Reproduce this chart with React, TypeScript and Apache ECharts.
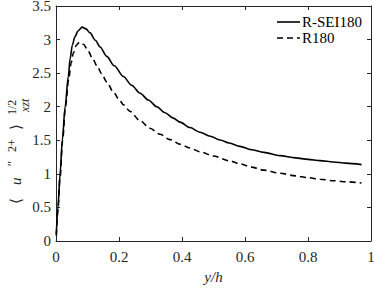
import React, { useEffect, useRef } from "react";
import * as echarts from "echarts";

// Data
const solidX = [0.001, 0.006, 0.013, 0.02, 0.029, 0.039, 0.045, 0.052, 0.06, 0.07, 0.083, 0.095, 0.108, 0.125, 0.14, 0.161, 0.185, 0.214, 0.24, 0.267, 0.293, 0.32, 0.346, 0.372, 0.394, 0.425, 0.457, 0.49, 0.521, 0.55, 0.584, 0.62, 0.66, 0.711, 0.76, 0.8, 0.838, 0.88, 0.92, 0.97];
const solidY = [0.1, 0.5, 1.0, 1.5, 2.0, 2.45, 2.72, 2.92, 3.04, 3.13, 3.185, 3.16, 3.1, 2.99, 2.89, 2.75, 2.61, 2.45, 2.32, 2.2, 2.1, 2.0, 1.91, 1.83, 1.77, 1.69, 1.62, 1.56, 1.505, 1.46, 1.41, 1.36, 1.32, 1.272, 1.238, 1.215, 1.197, 1.177, 1.16, 1.137];
const dashedX = [0.001, 0.006, 0.013, 0.021, 0.03, 0.04, 0.048, 0.055, 0.065, 0.075, 0.087, 0.1, 0.115, 0.13, 0.145, 0.161, 0.182, 0.2, 0.214, 0.235, 0.267, 0.298, 0.33, 0.362, 0.394, 0.425, 0.457, 0.5, 0.55, 0.584, 0.62, 0.66, 0.711, 0.76, 0.8, 0.838, 0.88, 0.92, 0.97];
const dashedY = [0.08, 0.45, 0.95, 1.5, 2.0, 2.4, 2.65, 2.8, 2.92, 2.96, 2.93, 2.85, 2.73, 2.61, 2.49, 2.37, 2.22, 2.11, 2.03, 1.93, 1.79, 1.68, 1.59, 1.51, 1.44, 1.385, 1.33, 1.265, 1.195, 1.15, 1.1, 1.055, 1.01, 0.97, 0.943, 0.92, 0.898, 0.882, 0.865];
const seriesNames = ["R-SEI180", "R180"];
const xTicks = { min: 0, max: 1, interval: 0.2 };
const yTicks = { min: 0, max: 3.5, interval: 0.5 };
const xLabel = "y/h";

const FONT = "Liberation Serif";
const AX = "#262626";

export default function App() {
  const ref = useRef<HTMLDivElement>(null);
  useEffect(() => {
    if (!ref.current) return;
    const chart = echarts.init(ref.current, undefined, { renderer: "svg" });
    const zip = (xs: number[], ys: number[]) => xs.map((x, i) => [x, ys[i]]);
    const axisLine = { show: true, onZero: false, lineStyle: { color: AX, width: 1 } };
    const axisTick = { show: true, inside: true, length: 4, lineStyle: { color: AX, width: 1 } };
    const labelStyle = { fontFamily: FONT, fontSize: 15, color: AX };
    const main = { fontFamily: FONT, fontSize: 15, fill: AX, verticalAlign: "middle" };
    const small = { fontFamily: FONT, fontSize: 12, fill: AX, verticalAlign: "middle" };
    const legendText = { fontFamily: FONT, fontSize: 15, fill: "#000", verticalAlign: "middle" };
    chart.setOption({
      animation: false,
      grid: { left: 56, right: 3, top: 6, bottom: 47, containLabel: false, outerBoundsMode: "none" },
      xAxis: [
        {
          type: "value", ...xTicks, position: "bottom",
          axisLine, axisTick, splitLine: { show: false },
          axisLabel: { ...labelStyle, margin: 8 },
          name: xLabel, nameLocation: "middle", nameGap: 28,
          nameTextStyle: { ...labelStyle, fontStyle: "italic" },
        },
        {
          type: "value", ...xTicks, position: "top",
          axisLine, axisTick, splitLine: { show: false }, axisLabel: { show: false },
        },
      ],
      yAxis: [
        {
          type: "value", ...yTicks, position: "left",
          axisLine, axisTick, splitLine: { show: false },
          axisLabel: { ...labelStyle, margin: 5 },
        },
        {
          type: "value", ...yTicks, position: "right",
          axisLine, axisTick, splitLine: { show: false }, axisLabel: { show: false },
        },
      ],
      series: [
        {
          name: seriesNames[0], type: "line", data: zip(solidX, solidY), symbol: "none",
          smooth: 0.3, smoothMonotone: "x", itemStyle: { color: "#000" },
          lineStyle: { color: "#000", width: 1.6, type: "solid" },
        },
        {
          name: seriesNames[1], type: "line", data: zip(dashedX, dashedY), symbol: "none",
          smooth: 0.3, smoothMonotone: "x", itemStyle: { color: "#000" },
          lineStyle: { color: "#000", width: 1.6, type: [6, 4] },
        },
      ],
      graphic: [
        {
          type: "group", x: 0, y: 207, rotation: Math.PI / 2,
          children: [
            { type: "text", x: 3, y: 16, style: { ...main, text: "⟨" } },
            { type: "text", x: 22, y: 16, style: { ...main, fontStyle: "italic", text: "u" } },
            { type: "text", x: 41, y: 12, style: { ...small, text: "′′" } },
            { type: "text", x: 55, y: 12, style: { ...small, text: "2+" } },
            { type: "text", x: 77, y: 16, style: { ...main, text: "⟩" } },
            { type: "text", x: 92, y: 12, style: { ...small, text: "1/2" } },
            { type: "text", x: 95, y: 25, style: { ...small, fontStyle: "italic", text: "xzt" } },
          ],
        },
        { type: "line", shape: { x1: 277, y1: 22, x2: 300, y2: 22 }, style: { stroke: "#000", lineWidth: 1.6 } },
        { type: "line", shape: { x1: 277, y1: 38, x2: 300, y2: 38 }, style: { stroke: "#000", lineWidth: 1.6, lineDash: [6, 4] } },
        { type: "text", x: 302, y: 22, style: { ...legendText, text: seriesNames[0] } },
        { type: "text", x: 302, y: 38, style: { ...legendText, text: seriesNames[1] } },
      ],
    });
    return () => chart.dispose();
  }, []);
  return <div ref={ref} style={{ position: "fixed", left: 0, top: 0, width: 374, height: 288, background: "#fff" }} />;
}
